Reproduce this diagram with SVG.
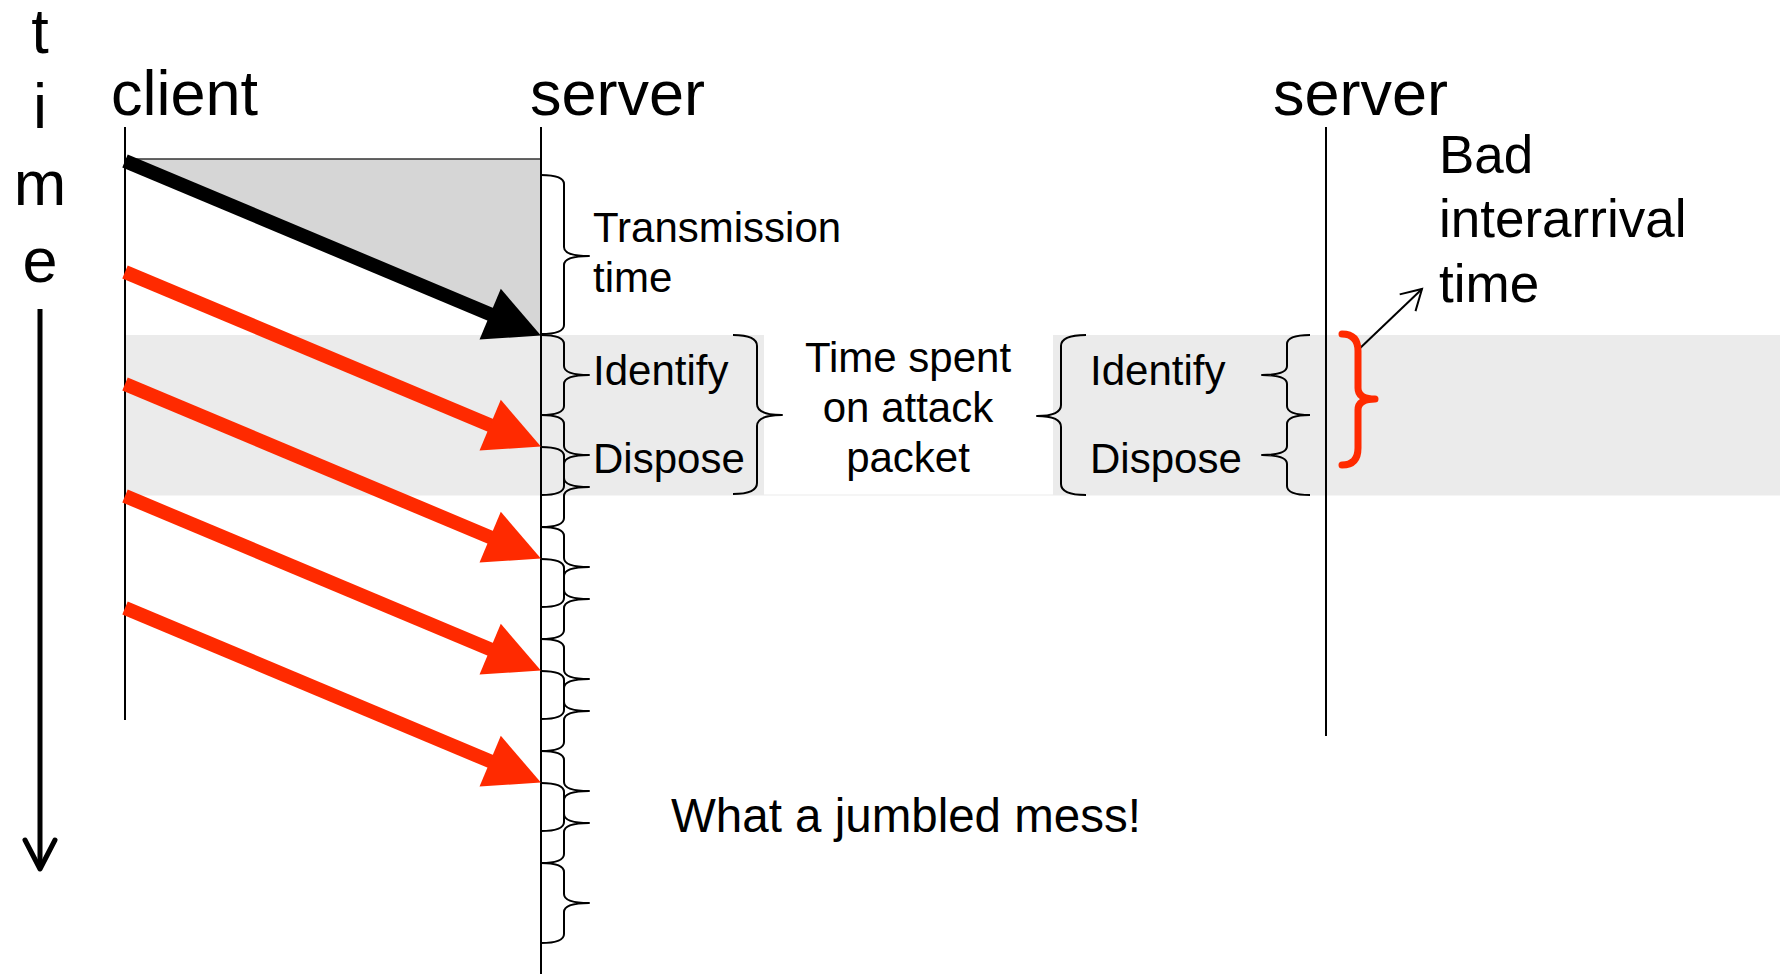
<svg xmlns="http://www.w3.org/2000/svg" xmlns:xlink="http://www.w3.org/1999/xlink" width="1780" height="974" viewBox="0 0 1780 974">
  <style>
    text { font-family: "Liberation Sans", Arial, sans-serif; fill: #000; }
    .big { font-size: 63px; }
    .mid { font-size: 42px; }
    .bad { font-size: 53px; }
    .mess { font-size: 47.5px; }
    .life { stroke: #000; stroke-width: 2; fill: none; }
    .brace { stroke: #000; stroke-width: 2; fill: none; stroke-linejoin: round; }
    .redbrace { stroke: #ff2a00; stroke-width: 7; fill: none; stroke-linecap: round; stroke-linejoin: round; }
  </style>
  <defs>
    <!-- packet arrow laid out along +x, length 451 -->
    <g id="pkt">
      <line x1="0" y1="0" x2="399" y2="0" stroke="currentColor" stroke-width="14"/>
      <polygon points="396,-27.5 451,0 396,27.5" fill="currentColor"/>
    </g>
    <!-- curly brace, 80 tall, opening to the left, point to the right -->
    <path id="b80" d="M0,0 Q23,0 23,9 L23,31 Q23,40 48,40 Q23,40 23,49 L23,71 Q23,80 0,80"/>
  </defs>

  <rect width="1780" height="974" fill="#fff"/>

  <!-- processing band -->
  <g id="band">
    <rect x="125" y="335" width="1655" height="160.5" fill="#ebebeb"/>
    <rect x="764" y="334" width="289" height="160.5" fill="#fff"/>
  </g>

  <!-- time axis -->
  <g id="time-axis">
    <text class="big" x="40" y="53" text-anchor="middle">t</text>
    <text class="big" x="40" y="128" text-anchor="middle">i</text>
    <text class="big" x="40" y="205" text-anchor="middle">m</text>
    <text class="big" x="40" y="282" text-anchor="middle">e</text>
    <line x1="40" y1="309" x2="40" y2="868" stroke="#000" stroke-width="5"/>
    <polyline points="25,840 40,869 55,840" fill="none" stroke="#000" stroke-width="5" stroke-linecap="round" stroke-linejoin="round"/>
  </g>

  <!-- transmission wedge -->
  <g id="transmission">
    <polygon points="125,159 541,159 541,335" fill="#d6d6d6"/>
    <line x1="125" y1="159" x2="541" y2="159" stroke="#333" stroke-width="1.5"/>
  </g>

  <g id="client">
    <text class="big" x="111" y="115">client</text>
    <line class="life" x1="125" y1="127" x2="125" y2="720"/>
  </g>

  <g id="server-a">
    <text class="big" x="530" y="115">server</text>
    <line class="life" x1="541" y1="127" x2="541" y2="974"/>
  </g>

  <g id="server-b">
    <text class="big" x="1273" y="115">server</text>
    <line class="life" x1="1326" y1="127" x2="1326" y2="736"/>
  </g>

  <!-- packets travelling client to server -->
  <g id="connectors">
    <use xlink:href="#pkt" href="#pkt" color="#000" transform="translate(125,161) rotate(22.76)"/>
    <use xlink:href="#pkt" href="#pkt" color="#ff2a00" transform="translate(125,272) rotate(22.76)"/>
    <use xlink:href="#pkt" href="#pkt" color="#ff2a00" transform="translate(125,384) rotate(22.76)"/>
    <use xlink:href="#pkt" href="#pkt" color="#ff2a00" transform="translate(125,496) rotate(22.76)"/>
    <use xlink:href="#pkt" href="#pkt" color="#ff2a00" transform="translate(125,608) rotate(22.76)"/>
    <line x1="1357" y1="351" x2="1422" y2="289" stroke="#000" stroke-width="2"/>
    <polyline points="1399.7,294.4 1422,289 1415.5,311.1" fill="none" stroke="#000" stroke-width="2"/>
  </g>

  <!-- work done at the first server -->
  <g id="server-a-work" class="brace">
    <path d="M541,175 Q564,175 564,184 L564,247 Q564,256 589,256 Q564,256 564,265 L564,325 Q564,334 541,334"/>
    <use href="#b80" xlink:href="#b80" x="541" y="335"/>
    <use href="#b80" xlink:href="#b80" x="541" y="415"/>
    <use href="#b80" xlink:href="#b80" x="541" y="447"/>
    <use href="#b80" xlink:href="#b80" x="541" y="527"/>
    <use href="#b80" xlink:href="#b80" x="541" y="559"/>
    <use href="#b80" xlink:href="#b80" x="541" y="639"/>
    <use href="#b80" xlink:href="#b80" x="541" y="671"/>
    <use href="#b80" xlink:href="#b80" x="541" y="751"/>
    <use href="#b80" xlink:href="#b80" x="541" y="783"/>
    <use href="#b80" xlink:href="#b80" x="541" y="863"/>
  </g>

  <g id="transmission-label">
    <text class="mid" x="593" y="242">Transmission</text>
    <text class="mid" x="593" y="292">time</text>
  </g>

  <g id="steps-a">
    <text class="mid" x="593" y="385">Identify</text>
    <text class="mid" x="593" y="473">Dispose</text>
  </g>

  <g id="attack-time">
    <path class="brace" d="M733,335 Q757,335 757,346 L757,404 Q757,415 782,415 Q757,415 757,426 L757,483 Q757,494 733,494"/>
    <path class="brace" d="M1086,335 Q1061,335 1061,346 L1061,405 Q1061,416 1037,416 Q1061,416 1061,427 L1061,484 Q1061,495 1086,495"/>
    <text class="mid" x="908" y="372" text-anchor="middle">Time spent</text>
    <text class="mid" x="908" y="422" text-anchor="middle">on attack</text>
    <text class="mid" x="908" y="472" text-anchor="middle">packet</text>
  </g>

  <g id="steps-b">
    <g class="brace">
      <use href="#b80" xlink:href="#b80" transform="translate(1310,335) scale(-1,1)"/>
      <use href="#b80" xlink:href="#b80" transform="translate(1310,415) scale(-1,1)"/>
    </g>
    <text class="mid" x="1090" y="385">Identify</text>
    <text class="mid" x="1090" y="473">Dispose</text>
  </g>

  <g id="interarrival">
    <path class="redbrace" d="M1342,334 Q1358,334 1358,351 L1358,388 Q1358,399 1375,399 Q1358,399 1358,410 L1358,448 Q1358,465 1342,465"/>
    <text class="bad" x="1439" y="173">Bad</text>
    <text class="bad" x="1439" y="237">interarrival</text>
    <text class="bad" x="1439" y="302">time</text>
  </g>

  <g id="note">
    <text class="mess" x="671" y="832">What a jumbled mess!</text>
  </g>
</svg>
